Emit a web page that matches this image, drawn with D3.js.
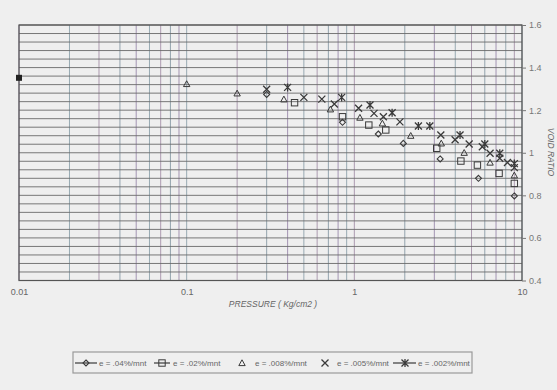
<!DOCTYPE html>
<html>
<head>
<meta charset="utf-8">
<script src="https://cdn.jsdelivr.net/npm/d3@7"></script>
<style>
  body { margin: 0; background: #efefef; }
  svg { display: block; font-family: "Liberation Sans", Arial, sans-serif; }
</style>
</head>
<body>
<div id="chart"></div>
<script>
// pressure (Kg/cm2) / void ratio readings per strain rate
var diamondP = [0.3, 0.85, 1.39, 1.96, 3.25, 5.5, 9.0];
var diamondE = [1.274, 1.143, 1.088, 1.044, 0.971, 0.880, 0.797];

var squareP = [0.44, 0.85, 1.22, 1.54, 3.1, 4.32, 5.42, 7.3, 9.0];
var squareE = [1.235, 1.169, 1.130, 1.107, 1.021, 0.961, 0.942, 0.903, 0.856];

var triangleP = [0.1, 0.2, 0.38, 0.72, 1.08, 1.47, 2.17, 3.3, 4.52, 6.45, 9.0];
var triangleE = [1.323, 1.279, 1.251, 1.204, 1.165, 1.138, 1.080, 1.044, 1.000, 0.954, 0.894];

var crossP = [0.3, 0.5, 0.64, 0.76, 1.06, 1.31, 1.49, 1.87, 3.28, 3.99, 4.84, 5.8, 6.45, 7.37, 8.19, 9.0];
var crossE = [1.298, 1.260, 1.252, 1.229, 1.209, 1.185, 1.169, 1.145, 1.083, 1.061, 1.041, 1.028, 0.998, 0.974, 0.954, 0.930];

var starP = [0.4, 0.84, 1.24, 1.68, 2.41, 2.82, 4.27, 6.0, 7.37, 9.0];
var starE = [1.307, 1.260, 1.224, 1.188, 1.126, 1.126, 1.083, 1.041, 0.998, 0.949];

// lone filled point on the left axis
var startP = [0.01];
var startE = [1.352];

var xTicks = [0.01, 0.1, 1, 10];
var yTicks = [0.4, 0.6, 0.8, 1.0, 1.2, 1.4, 1.6];
var legendLabels = ["e = .04%/mnt", "e = .02%/mnt", "e = .008%/mnt", "e = .005%/mnt", "e = .002%/mnt"];

var svgWidth = 557, svgHeight = 390;
var margin = { top: 25, left: 19, right: 35, bottom: 109.5 };
var width = svgWidth - margin.left - margin.right;
var height = svgHeight - margin.top - margin.bottom;

var svg = d3.select("#chart").append("svg")
  .attr("width", svgWidth)
  .attr("height", svgHeight);

var chartGroup = svg.append("g")
  .attr("transform", `translate(${margin.left}, ${margin.top})`);

var x = d3.scaleLog().domain([0.01, 10]).range([0, width]);
var y = d3.scaleLinear().domain([0.4, 1.6]).range([height, 0]);

// grid: every 1..9 in each decade, every 0.04 of void ratio
var vLines = [];
[0.01, 0.1, 1].forEach(function(d) {
  for (var i = 1; i < 10; i++) vLines.push(d * i);
});
vLines.push(10);
var hLines = d3.range(0, 31).map(function(i) { return 0.4 + i * 0.04; });
var gridColors = ["#a394b2", "#98aab2", "#ad9bb0", "#93a3ad"];

chartGroup.selectAll(".vgrid").data(vLines).enter().append("line")
  .attr("x1", d => x(d)).attr("x2", d => x(d))
  .attr("y1", 0).attr("y2", height)
  .attr("stroke", (d, i) => gridColors[i % gridColors.length])
  .attr("stroke-width", 1);

chartGroup.selectAll(".hgrid").data(hLines).enter().append("line")
  .attr("x1", 0).attr("x2", width)
  .attr("y1", d => y(d)).attr("y2", d => y(d))
  .attr("stroke", "#6a6a6a")
  .attr("stroke-width", 0.9);

chartGroup.append("rect")
  .attr("width", width).attr("height", height)
  .attr("fill", "none").attr("stroke", "#555").attr("stroke-width", 1.2);

// x axis labels
var xAxis = chartGroup.append("g")
  .attr("transform", `translate(0, ${height})`)
  .call(d3.axisBottom(x).tickValues(xTicks).tickSize(0).tickPadding(8).tickFormat(d3.format("")));
xAxis.select(".domain").remove();
xAxis.selectAll("text").attr("fill", "#666").style("font-size", "9px");

// y axis on the right
var yAxis = chartGroup.append("g")
  .attr("transform", `translate(${width}, 0)`)
  .call(d3.axisRight(y).tickValues(yTicks).tickSize(4).tickPadding(3)
    .tickFormat(d => d === 1 ? "1" : d3.format(".1f")(d)));
yAxis.select(".domain").remove();
yAxis.selectAll("line").attr("stroke", "#777");
yAxis.selectAll("text").attr("fill", "#777").style("font-size", "9px");

svg.append("text")
  .attr("x", 273).attr("y", 307)
  .attr("text-anchor", "middle")
  .attr("fill", "#666").style("font-size", "8.5px").style("font-style", "italic")
  .text("PRESSURE ( Kg/cm2 )");

svg.append("text")
  .attr("transform", "translate(548, 152) rotate(90)")
  .attr("text-anchor", "middle")
  .attr("fill", "#666").style("font-size", "8.5px").style("font-style", "italic")
  .text("VOID RATIO");

// marker drawing
var ink = "#3a3a3a";
function drawMarker(g, type, cx, cy) {
  if (type === "diamond") {
    g.append("path").attr("d", `M${cx},${cy - 3}L${cx + 3},${cy}L${cx},${cy + 3}L${cx - 3},${cy}Z`)
      .attr("fill", "none").attr("stroke", ink).attr("stroke-width", 1.1);
  } else if (type === "square") {
    g.append("rect").attr("x", cx - 3.2).attr("y", cy - 3.2).attr("width", 6.4).attr("height", 6.4)
      .attr("fill", "none").attr("stroke", ink).attr("stroke-width", 1);
  } else if (type === "triangle") {
    g.append("path").attr("d", `M${cx},${cy - 3.2}L${cx + 3.2},${cy + 2.6}L${cx - 3.2},${cy + 2.6}Z`)
      .attr("fill", "none").attr("stroke", ink).attr("stroke-width", 1);
  } else if (type === "cross") {
    g.append("path").attr("d", `M${cx - 3.5},${cy - 3.5}L${cx + 3.5},${cy + 3.5}M${cx + 3.5},${cy - 3.5}L${cx - 3.5},${cy + 3.5}`)
      .attr("stroke", ink).attr("stroke-width", 1.3);
  } else if (type === "star") {
    g.append("path").attr("d", `M${cx - 3.5},${cy - 3.5}L${cx + 3.5},${cy + 3.5}M${cx + 3.5},${cy - 3.5}L${cx - 3.5},${cy + 3.5}M${cx},${cy - 4}L${cx},${cy + 4}`)
      .attr("stroke", ink).attr("stroke-width", 1.3);
  } else if (type === "filled") {
    g.append("rect").attr("x", cx - 3).attr("y", cy - 3).attr("width", 6).attr("height", 6)
      .attr("fill", "#222");
  }
}

var series = [
  { type: "diamond", p: diamondP, e: diamondE },
  { type: "square", p: squareP, e: squareE },
  { type: "triangle", p: triangleP, e: triangleE },
  { type: "cross", p: crossP, e: crossE },
  { type: "star", p: starP, e: starE },
  { type: "filled", p: startP, e: startE }
];

var markGroup = chartGroup.append("g");
series.forEach(function(s) {
  s.p.forEach(function(p, i) {
    drawMarker(markGroup, s.type, x(p), y(s.e[i]));
  });
});

// legend
var legend = svg.append("g");
legend.append("rect")
  .attr("x", 73).attr("y", 352).attr("width", 399).attr("height", 21)
  .attr("fill", "none").attr("stroke", "#999").attr("stroke-width", 1.2);

var legendItems = [
  { type: "diamond", line: [75, 97], mx: 86, tx: 99 },
  { type: "square", line: [154, 170], mx: 162, tx: 173 },
  { type: "triangle", line: null, mx: 242, tx: 255 },
  { type: "cross", line: null, mx: 325, tx: 337 },
  { type: "star", line: [393, 416], mx: 405, tx: 418 }
];
legendItems.forEach(function(it, i) {
  var ly = 363;
  if (it.line) {
    legend.append("line").attr("x1", it.line[0]).attr("x2", it.line[1])
      .attr("y1", ly).attr("y2", ly).attr("stroke", ink).attr("stroke-width", 1.2);
  }
  drawMarker(legend, it.type, it.mx, ly);
  legend.append("text").attr("x", it.tx).attr("y", ly + 3)
    .attr("fill", "#666").style("font-size", "8px")
    .text(legendLabels[i]);
});
</script>
</body>
</html>
